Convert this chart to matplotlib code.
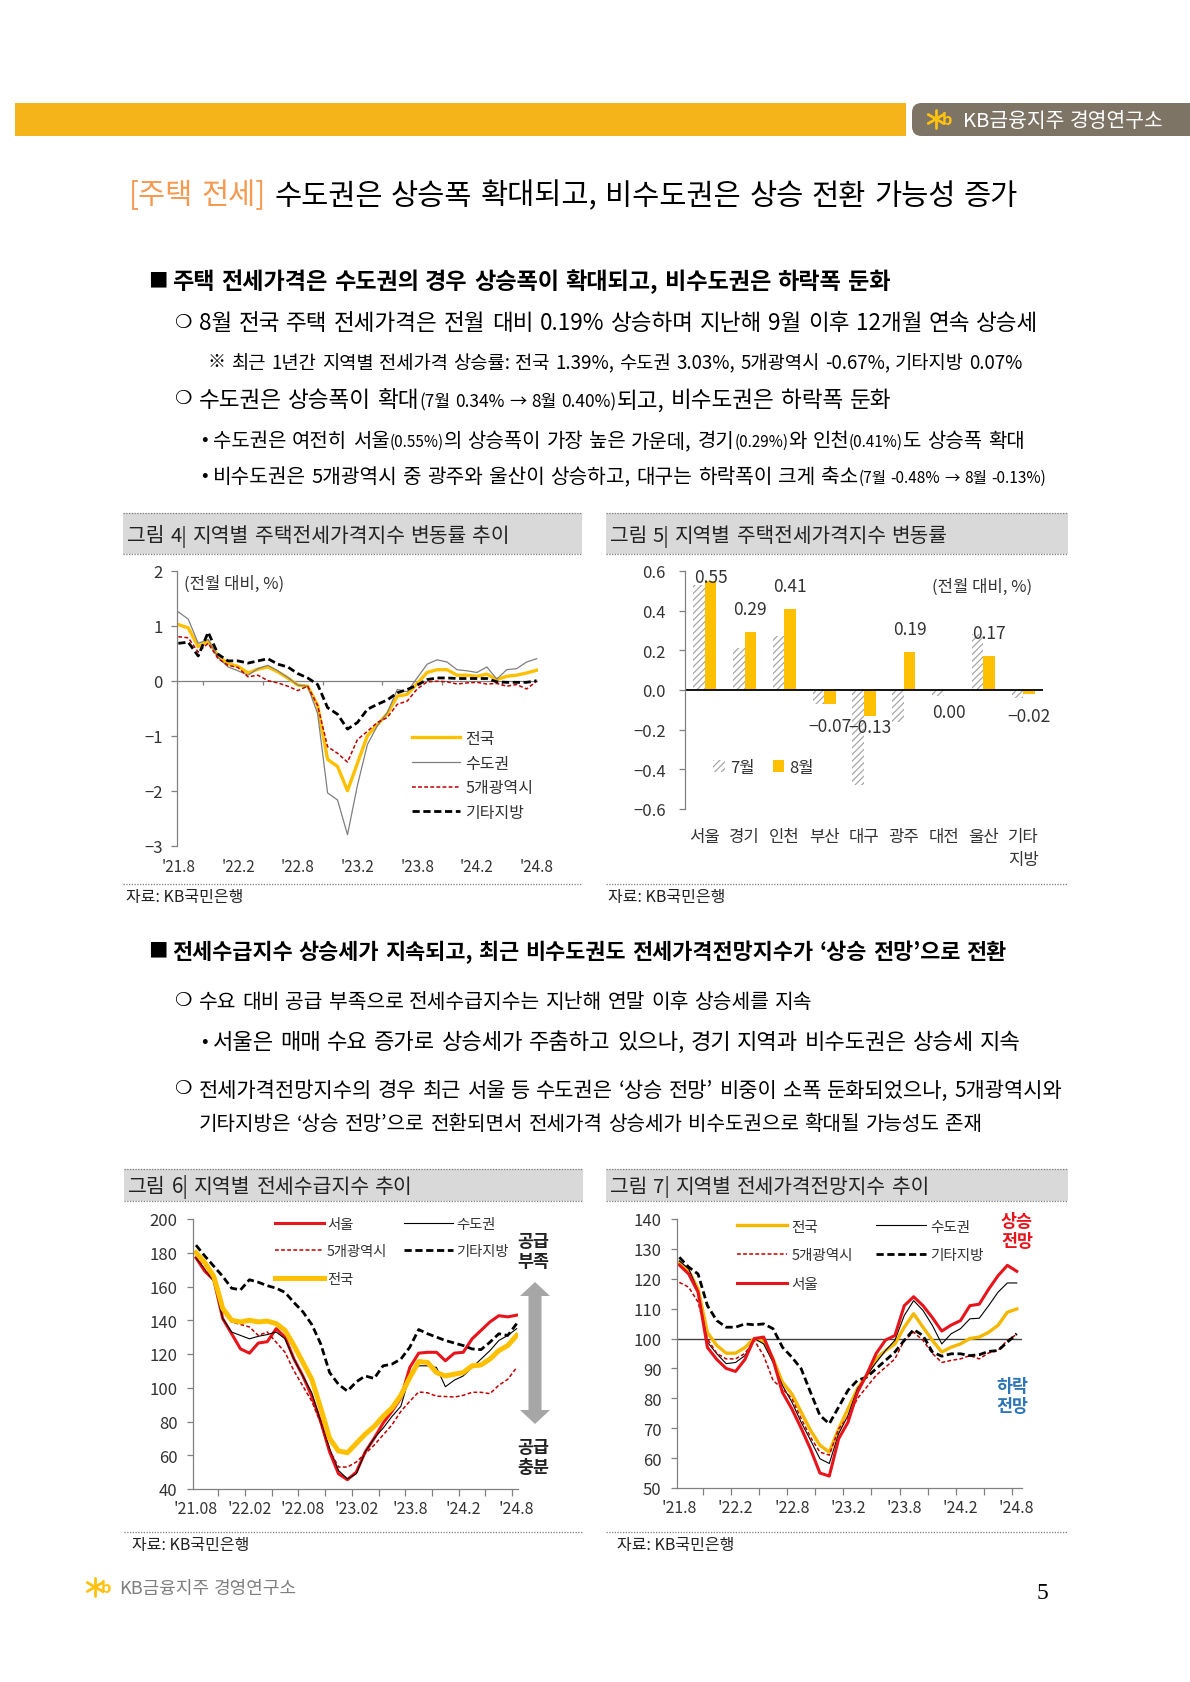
import numpy as np
import matplotlib
matplotlib.use('Agg')
from matplotlib import pyplot as plt
from matplotlib.patches import Rectangle, Polygon, FancyBboxPatch
from matplotlib.lines import Line2D
from matplotlib.ticker import FuncFormatter

plt.rcParams['font.family'] = ['Noto Sans CJK KR', 'DejaVu Sans']
plt.rcParams['hatch.linewidth'] = 0.9

# ---------------- data ----------------
months = np.arange(37)   # 2021.8 ... 2024.8
ticks_a = ["'21.8", "'22.2", "'22.8", "'23.2", "'23.8", "'24.2", "'24.8"]
ticks_b = ["'21.08", "'22.02", "'22.08", "'23.02", "'23.8", "'24.2", "'24.8"]

# 그림 4: 전월 대비 변동률 (%)
chg_nation = [1.02, 0.96, 0.62, 0.72, 0.45, 0.31, 0.26, 0.14, 0.21, 0.25, 0.16, 0.05, -0.08,
              -0.1, -0.45, -1.43, -1.56, -2.0, -1.5, -1.0, -0.8, -0.6, -0.28, -0.25, -0.05,
              0.15, 0.2, 0.2, 0.1, 0.1, 0.08, 0.12, 0.02, 0.08, 0.1, 0.14, 0.19]
chg_capital = [1.25, 1.12, 0.68, 0.75, 0.42, 0.25, 0.18, 0.1, 0.22, 0.28, 0.18, 0.06, -0.08,
               -0.1, -0.6, -2.04, -2.17, -2.8, -1.9, -1.16, -0.82, -0.58, -0.16, -0.2, 0.05,
               0.3, 0.38, 0.34, 0.2, 0.18, 0.15, 0.25, 0.03, 0.2, 0.22, 0.34, 0.40]
chg_metro5 = [0.8, 0.78, 0.52, 0.68, 0.4, 0.28, 0.24, 0.07, 0.1, 0.0, -0.04, -0.1, -0.18,
              -0.1, -0.45, -1.2, -1.32, -1.48, -1.07, -0.92, -0.76, -0.67, -0.43, -0.37, -0.15,
              -0.02, -0.01, -0.02, -0.06, -0.04, -0.03, -0.06, -0.05, -0.1, -0.07, -0.15, -0.01]
chg_other = [0.68, 0.7, 0.45, 0.88, 0.48, 0.36, 0.36, 0.32, 0.36, 0.4, 0.3, 0.25, 0.13,
             0.05, -0.07, -0.49, -0.61, -0.88, -0.76, -0.52, -0.43, -0.35, -0.22, -0.16, -0.08,
             0.02, 0.05, 0.05, 0.04, 0.04, 0.04, 0.04, -0.02, -0.03, -0.03, -0.03, 0.0]

# 그림 5: 지역별 변동률
regions = ['서울', '경기', '인천', '부산', '대구', '광주', '대전', '울산', '기타\n지방']
jul = [0.53, 0.21, 0.27, -0.07, -0.48, -0.16, -0.03, 0.28, -0.04]
aug = [0.55, 0.29, 0.41, -0.07, -0.13, 0.19, 0.00, 0.17, -0.02]

# 그림 6: 전세수급지수
sup_seoul = [177, 169, 164, 141, 132, 123, 120.5, 126.5, 127.3, 135, 130, 117, 107, 95, 80,
             62, 49, 45.5, 50, 62, 70, 79, 86, 94, 112, 120.5, 121, 121, 116, 120.5, 121,
             129, 134, 139, 142.7, 142, 143]
sup_capital = [177, 170, 163, 141, 133, 131, 129, 130.5, 131.5, 133, 129, 117, 107, 97, 80,
               64, 51, 46, 49, 62, 70, 76, 83, 89, 107, 113, 113, 112, 100.6, 104.5, 107,
               112, 117, 122, 128, 131, 135]
sup_metro5 = [178, 170, 164, 145, 139, 137.5, 136, 131, 133, 127, 121, 110, 101, 92, 79,
              63, 53, 53, 56, 61, 66, 72, 78, 86, 92, 97.5, 97, 95, 94.8, 94.5, 95.5,
              97.3, 97.3, 96.5, 101.5, 105, 112]
sup_other = [184.5, 178, 172, 166, 159, 158, 164, 162.5, 160.5, 159, 156.5, 150.5, 145, 137.5,
             126, 109, 102, 98, 103.5, 107, 105.5, 113, 114, 117, 124, 134.5, 132, 130, 128,
             126.5, 125, 123, 122.6, 127, 132, 131, 138]
sup_nation = [180, 174, 166, 147, 140, 139, 140, 139, 139.5, 138, 134, 125, 115, 105, 88,
              70, 62.5, 61.5, 67, 72.5, 77, 83, 88, 95.5, 106, 115.5, 115, 109, 107, 108, 109,
              113, 113.5, 117, 122, 125, 131]

# 그림 7: 전세가격전망지수
exp_nation = [125.5, 122.7, 116.6, 102, 97.7, 95.1, 95.1, 97, 100, 99, 93.2, 85.4, 81.5,
              75.4, 69.3, 64.3, 62, 69.8, 76.5, 83.2, 87.7, 93.2, 96, 98.2, 103.8, 108.3,
              103.8, 99.4, 95.5, 97.1, 98.2, 100, 100.5, 102.1, 104.4, 108.8, 109.9]
exp_capital = [126, 123.3, 116, 98.8, 94.9, 91.6, 92, 94.3, 100, 98.2, 92, 84.3, 78.8, 72,
               66, 59.8, 58.2, 68.2, 74.3, 83.2, 87.7, 92, 96, 99.4, 107.7, 112.7, 109.4,
               104.4, 98.2, 101.6, 103.3, 106.6, 106.8, 111, 115.5, 118.6, 118.6]
exp_metro5 = [118.8, 117.2, 112.2, 99.9, 95, 93.2, 93.2, 95, 99.4, 94.3, 86, 83.2, 80, 73.2,
              67, 62, 61, 69.8, 73.7, 79.9, 83.8, 87.7, 90.4, 93.2, 99.4, 102.1, 99.4, 95, 92,
              92.7, 93.2, 94.3, 93.2, 95.2, 96, 99.4, 101.4]
exp_other = [127.2, 123.9, 121.6, 111, 106, 103.8, 103.8, 104.9, 104.6, 104.9, 103.3, 97.1,
             93.8, 89.9, 82, 74.3, 71.5, 77.1, 82.7, 86, 87.1, 89.9, 92.7, 95.5, 99.4, 103, 101,
             95.5, 94.1, 94.9, 94.9, 94.3, 94.6, 95.7, 96, 98.8, 101.6]
exp_seoul = [124.6, 121.6, 115.5, 97, 93, 90, 89, 93, 100, 100.5, 93, 82, 76.5, 70, 63, 55,
             54, 66.5, 72, 82, 88, 95, 99.5, 101, 111, 114, 111, 107, 102.5, 104.5, 106, 111,
             111.5, 116.5, 121, 124.5, 122.5]

YEL = '#FFC000'
RED = '#E8141B'
DRED = '#C00000'
GRY = '#808080'
TXT = '#333333'

# ---------------- page ----------------
W, H = 1190, 1683
fig = plt.figure(figsize=(W / 100, H / 100), dpi=100)
fig.patch.set_facecolor('white')
rend = fig.canvas.get_renderer()


def put(x, y, s, size, color='black', weight='normal', ha='left', va='baseline', **kw):
    return fig.text(x / W, 1 - y / H, s, fontsize=size, color=color,
                    fontweight=weight, ha=ha, va=va, **kw)


def width_of(s, size, weight):
    t = put(0, 0, s, size, weight=weight)
    w = t.get_window_extent(rend).width
    t.remove()
    return w


def line(x, y, runs, right=None, mode='justify'):
    # runs: (text, size, color, weight); y = middle of the line in pixels
    toks = []
    for text, size, color, weight in runs:
        for k, word in enumerate(text.split(' ')):
            if k:
                toks.append([' ', size, color, weight])
            if word:
                toks.append([word, size, color, weight])

    def measure():
        return [t[1] * 100 / 72 * 0.28 if t[0] == ' ' else width_of(t[0], t[1], t[3])
                for t in toks]
    ws = measure()
    gaps = [t for t in toks if t[0] == ' ']
    extra = 0.0
    if right is not None:
        room = right - x
        if mode == 'scale' or sum(ws) > room or not gaps:
            f = room / sum(ws)
            for t in toks:
                t[1] *= f
            ws = measure()
        else:
            extra = (room - sum(ws)) / len(gaps)
    base = y + 0.36 * max(t[1] for t in toks) * 100 / 72
    cx = x
    for t, w in zip(toks, ws):
        if t[0] == ' ':
            cx += w + extra
        else:
            put(cx, base, t[0], t[1], t[2], t[3])
            cx += w


def hline(x0, x1, y, **kw):
    fig.add_artist(Line2D([x0 / W, x1 / W], [1 - y / H, 1 - y / H],
                          transform=fig.transFigure, **kw))


def logo(cx, cy, r, color):
    for ang in (90, 30, -30):
        a = np.deg2rad(ang)
        fig.add_artist(Line2D([(cx - r * np.cos(a)) / W, (cx + r * np.cos(a)) / W],
                              [1 - (cy - r * np.sin(a)) / H, 1 - (cy + r * np.sin(a)) / H],
                              transform=fig.transFigure, color=color, lw=2.0,
                              solid_capstyle='round'))
    put(cx + r * 0.6, cy, 'b', r * 1.3, color=color, weight='bold', va='center')


def add_ax(l, t, r, b):
    return fig.add_axes([l / W, 1 - b / H, (r - l) / W, (b - t) / H])


def title_box(l, t, r, b, text, text_right):
    fig.patches.append(Rectangle((l / W, 1 - b / H), (r - l) / W, (b - t) / H,
                                 transform=fig.transFigure, facecolor='#D9D9D9',
                                 edgecolor='none', zorder=0))
    for yy in (t, b):
        hline(l, r, yy, color='#7F7F7F', lw=0.9, ls=(0, (1, 1.2)))
    line(l + 4, (t + b) / 2, [(text, 13, '#222222', 'normal')], right=text_right, mode='scale')


def source(l, r, y, tx):
    hline(l, r, y, color='#7F7F7F', lw=0.9, ls=(0, (1, 1.2)))
    put(tx, y + 13, '자료: KB국민은행', 11.5, color='#222222', va='center')


# header band
fig.patches.append(Rectangle((15 / W, 1 - 137 / H), (906 - 15) / W, 33 / H,
                             transform=fig.transFigure, facecolor='#F4B41A', edgecolor='none'))
fig.patches.append(FancyBboxPatch((912 / W, 1 - 137 / H), (1230 - 912) / W, 33 / H,
                                  boxstyle='round,pad=0,rounding_size=0.008',
                                  mutation_aspect=W / H,
                                  transform=fig.transFigure, facecolor='#7E7466',
                                  edgecolor='none'))
logo(936, 120, 9, '#FFC20E')
line(963, 120, [('KB금융지주 경영연구소', 15, 'white', 'normal')], right=1164, mode='scale')

# headline
line(129, 194, [('[주택 전세]', 24, '#F59A50', 'normal'),
                (' 수도권은 상승폭 확대되고, 비수도권은 상승 전환 가능성 증가', 24, 'black', 'normal')],
     right=1019)

B = 17.0
S = 13.0
HB = 17.0
bk = 'black'
put(148, 281, '■', 14, va='center')
line(172, 281, [('주택 전세가격은 수도권의 경우 상승폭이 확대되고, 비수도권은 하락폭 둔화', HB, bk, 'bold')],
     right=893)
put(174, 322, '❍', 14, va='center', weight='bold')
line(199, 322, [('8월 전국 주택 전세가격은 전월 대비 0.19% 상승하며 지난해 9월 이후 12개월 연속 상승세', B, bk, 'normal')],
     right=1038)
put(207, 362, '※', 13, va='center')
line(232, 362, [('최근 1년간 지역별 전세가격 상승률: 전국 1.39%, 수도권 3.03%, 5개광역시 -0.67%, 기타지방 0.07%', 15, bk, 'normal')],
     right=1021)
put(174, 399, '❍', 14, va='center', weight='bold')
line(199, 399, [('수도권은 상승폭이 확대', B, bk, 'normal'),
                ('(7월 0.34% → 8월 0.40%)', S, bk, 'normal'),
                ('되고, 비수도권은 하락폭 둔화', B, bk, 'normal')], right=893)
put(201, 440, '•', 14, va='center')
line(213, 440, [('수도권은 여전히 서울', B, bk, 'normal'), ('(0.55%)', S, bk, 'normal'),
                ('의 상승폭이 가장 높은 가운데, 경기', B, bk, 'normal'), ('(0.29%)', S, bk, 'normal'),
                ('와 인천', B, bk, 'normal'), ('(0.41%)', S, bk, 'normal'),
                ('도 상승폭 확대', B, bk, 'normal')], right=1024)
put(201, 476, '•', 14, va='center')
line(213, 476, [('비수도권은 5개광역시 중 광주와 울산이 상승하고, 대구는 하락폭이 크게 축소', B, bk, 'normal'),
                ('(7월 -0.48% → 8월 -0.13%)', S, bk, 'normal')], right=1047)

put(148, 951, '■', 14, va='center')
line(172, 951, [('전세수급지수 상승세가 지속되고, 최근 비수도권도 전세가격전망지수가 ‘상승 전망’으로 전환', HB, bk, 'bold')],
     right=1006)
put(174, 1001, '❍', 14, va='center', weight='bold')
line(199, 1001, [('수요 대비 공급 부족으로 전세수급지수는 지난해 연말 이후 상승세를 지속', B, bk, 'normal')],
     right=812)
put(201, 1041, '•', 14, va='center')
line(213, 1041, [('서울은 매매 수요 증가로 상승세가 주춤하고 있으나, 경기 지역과 비수도권은 상승세 지속', B, bk, 'normal')],
     right=1022)
put(174, 1089, '❍', 14, va='center', weight='bold')
line(199, 1089, [('전세가격전망지수의 경우 최근 서울 등 수도권은 ‘상승 전망’ 비중이 소폭 둔화되었으나, 5개광역시와', B, bk, 'normal')],
     right=1063)
line(199, 1123, [('기타지방은 ‘상승 전망’으로 전환되면서 전세가격 상승세가 비수도권으로 확대될 가능성도 존재', B, bk, 'normal')],
     right=983)

# footer
logo(95, 1588, 9, '#FFC20E')
line(119, 1588, [('KB금융지주 경영연구소', 14, '#7F7F7F', 'normal')], right=297, mode='scale')
fig.text(1042 / W, 1 - 1594 / H, '5', fontsize=17, family='Liberation Serif',
         ha='center', va='center')

# chart frames
title_box(123, 514, 582, 555, '그림 4| 지역별 주택전세가격지수 변동률 추이', 510)
title_box(606, 514, 1068, 555, '그림 5| 지역별 주택전세가격지수 변동률', 948)
title_box(124, 1170, 583, 1202, '그림 6| 지역별 전세수급지수 추이', 413)
title_box(606, 1170, 1068, 1202, '그림 7| 지역별 전세가격전망지수 추이', 930)
source(123, 582, 885, 126)
source(606, 1068, 885, 608)
source(124, 583, 1533, 132)
source(606, 1068, 1533, 617)


def style(ax, ylab_pad):
    for s in ('top', 'right'):
        ax.spines[s].set_visible(False)
    for s in ('left', 'bottom'):
        ax.spines[s].set_color(GRY)
        ax.spines[s].set_linewidth(0.9)
    ax.tick_params(axis='y', length=4, width=0.9, color=GRY, labelsize=12,
                   labelcolor=TXT, pad=ylab_pad)
    ax.set_facecolor('none')


# ---- 그림 4 ----
ax4 = add_ax(176.7, 571.7, 538, 846.7)
style(ax4, 6)
ax4.spines['bottom'].set_visible(False)
ax4.set_xlim(-0.16, 36.14)
ax4.set_ylim(-3, 2)
ax4.axhline(0, color=GRY, lw=0.9)
ax4.vlines(np.arange(2.5, 36, 6), -0.07, 0, color=GRY, lw=0.9)
ax4.plot(months, chg_nation, color=YEL, lw=2.4, label='전국')
ax4.plot(months, chg_capital, color='#7F7F7F', lw=0.9, label='수도권')
ax4.plot(months, chg_metro5, color=DRED, lw=1.1, ls=(0, (2.5, 1.5)), label='5개광역시')
ax4.plot(months, chg_other, color='black', lw=2.0, ls=(0, (2.6, 1.3)), label='기타지방')
ax4.set_xticks(months[::6])
ax4.set_xticklabels(ticks_a)
ax4.tick_params(axis='x', length=0, pad=9, labelsize=11, labelcolor=TXT)
ax4.set_yticks(range(-3, 3))
ax4.text(0.02, 0.955, '(전월 대비, %)', transform=ax4.transAxes, fontsize=12,
         color=TXT, va='center')
ax4.legend(loc='upper left', bbox_to_anchor=(0.63, 0.45), frameon=False, fontsize=11.5,
           handlelength=3.0, handletextpad=0.3, labelspacing=0.48, borderpad=0,
           labelcolor=TXT)

# ---- 그림 5 ----
ax5 = add_ax(685, 572, 1043, 810)
style(ax5, 10)
ax5.spines['bottom'].set_visible(False)
xc = np.arange(len(regions))
ax5.set_xlim(-0.5, 8.5)
ax5.set_ylim(-0.6, 0.6)
ax5.bar(xc - 0.145, jul, 0.29, facecolor='white', edgecolor='#A6A6A6', hatch='/////',
        lw=0, label='7월')
ax5.bar(xc + 0.145, aug, 0.29, color=YEL, lw=0, label='8월')
ax5.axhline(0, color='black', lw=1.3)
for xi, v in zip(xc, aug):
    yy = min(v + 0.116, 0.57) if v > 0 else max(v - 0.11, -0.185)
    ax5.text(xi + 0.145, yy, f'{v:.2f}'.replace('-', '−'), ha='center', va='center',
             fontsize=12.5, color=TXT)
ax5.set_yticks(np.linspace(-0.6, 0.6, 7))
ax5.yaxis.set_major_formatter(FuncFormatter(
    lambda v, _: '0.0' if abs(v) < 1e-9 else f'{v:.1f}'.replace('-', '−')))
ax5.set_xticks(xc)
ax5.set_xticklabels(regions, linespacing=1.45)
ax5.tick_params(axis='x', length=0, pad=14, labelsize=12, labelcolor=TXT)
ax5.text(0.97, 0.935, '(전월 대비, %)', transform=ax5.transAxes, fontsize=12,
         color=TXT, va='center', ha='right')
ax5.legend(loc='center left', bbox_to_anchor=(0.055, 0.176), ncol=2, frameon=False,
           fontsize=12, handlelength=0.7, handleheight=0.7, handletextpad=0.3,
           columnspacing=1.1, borderpad=0, labelcolor=TXT)

# ---- 그림 6 ----
ax6 = add_ax(192.7, 1220, 518, 1490)
style(ax6, 7)
ax6.set_xlim(-0.37, 36.15)
ax6.set_ylim(40, 200)
ax6.plot(months, sup_seoul, color=RED, lw=2.2, label='서울')
ax6.plot(months, sup_capital, color='black', lw=0.8, label='수도권')
ax6.plot(months, sup_metro5, color=DRED, lw=1.1, ls=(0, (2.5, 1.5)), label='5개광역시')
ax6.plot(months, sup_other, color='black', lw=2.0, ls=(0, (2.6, 1.3)), label='기타지방')
ax6.plot(months, sup_nation, color=YEL, lw=3.6, label='전국')
ax6.set_yticks(range(40, 201, 20))
ax6.set_xticks(months[::6])
ax6.set_xticklabels(ticks_b)
ax6.set_xticks(np.arange(2.5, 36, 3), minor=True)
ax6.tick_params(axis='x', which='major', length=0, pad=8, labelsize=11.5, labelcolor=TXT)
ax6.tick_params(axis='x', which='minor', length=5, width=0.9, color=GRY)
h6, l6 = ax6.get_legend_handles_labels()
order6 = [0, 2, 4, 1, 3]
ax6.legend([h6[i] for i in order6], [l6[i] for i in order6], loc='upper left',
           bbox_to_anchor=(0.232, 1.035), ncol=2, frameon=False, fontsize=10.3,
           handlelength=3.4, handletextpad=0.2, labelspacing=0.95, columnspacing=1.2,
           borderpad=0, labelcolor=TXT)
arrow = [(535, 1283), (550, 1297), (541.5, 1297), (541.5, 1411), (550, 1411), (535, 1425),
         (520, 1411), (528.5, 1411), (528.5, 1297), (520, 1297)]
fig.patches.append(Polygon([(px / W, 1 - py / H) for px, py in arrow], closed=True,
                           transform=fig.transFigure, facecolor='#A6A6A6', edgecolor='none'))
put(533, 1252, '공급\n부족', 12.5, color='#222222', weight='bold', ha='center', va='center',
    linespacing=1.1)
put(533, 1458, '공급\n충분', 12.5, color='#222222', weight='bold', ha='center', va='center',
    linespacing=1.1)

# ---- 그림 7 ----
ax7 = add_ax(676.7, 1220, 1021.7, 1489)
style(ax7, 7)
ax7.set_xlim(-0.28, 36.53)
ax7.set_ylim(50, 140)
ax7.axhline(100, color='#404040', lw=1.0)
ax7.plot(months, exp_nation, color='#F5B800', lw=2.4, label='전국')
ax7.plot(months, exp_capital, color='black', lw=0.8, label='수도권')
ax7.plot(months, exp_metro5, color=DRED, lw=1.1, ls=(0, (2.5, 1.5)), label='5개광역시')
ax7.plot(months, exp_other, color='black', lw=2.0, ls=(0, (2.6, 1.3)), label='기타지방')
ax7.plot(months, exp_seoul, color=RED, lw=2.2, label='서울')
ax7.set_yticks(range(50, 141, 10))
ax7.set_xticks(months[::6])
ax7.set_xticklabels(ticks_a)
ax7.set_xticks(np.arange(2.5, 36, 3), minor=True)
ax7.tick_params(axis='x', which='major', length=0, pad=8, labelsize=11.5, labelcolor=TXT)
ax7.tick_params(axis='x', which='minor', length=5, width=0.9, color=GRY)
h7, l7 = ax7.get_legend_handles_labels()
order7 = [0, 2, 4, 1, 3]
ax7.legend([h7[i] for i in order7], [l7[i] for i in order7], loc='upper left',
           bbox_to_anchor=(0.155, 1.025), ncol=2, frameon=False, fontsize=10.5,
           handlelength=3.4, handletextpad=0.3, labelspacing=1.0, columnspacing=1.6,
           borderpad=0, labelcolor=TXT)
put(1017, 1232, '상승\n전망', 12.5, color='#E8141B', weight='bold', ha='center', va='center',
    linespacing=1.1)
put(1012, 1397, '하락\n전망', 12.5, color='#2E75B6', weight='bold', ha='center', va='center',
    linespacing=1.1)

fig.savefig('out.png', dpi=100, facecolor='white')
